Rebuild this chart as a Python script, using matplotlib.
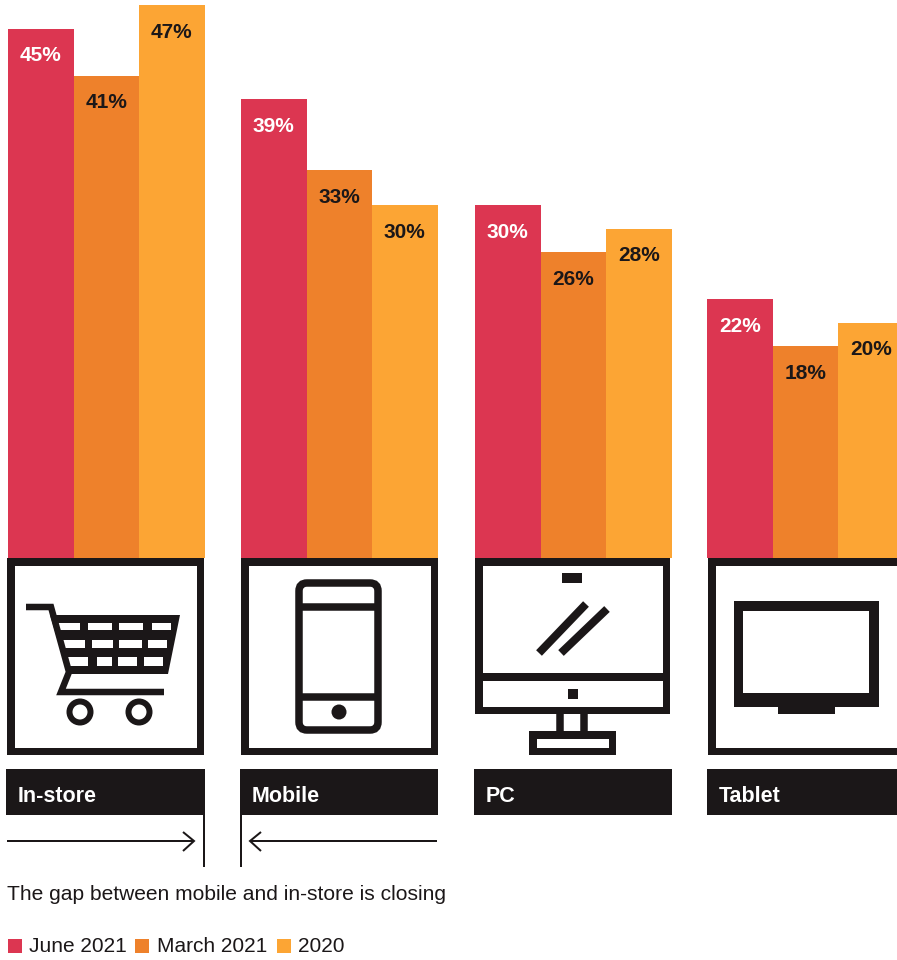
import matplotlib
matplotlib.use("Agg")
import matplotlib.pyplot as plt
from matplotlib.patches import Rectangle, Circle, FancyBboxPatch, Polygon

plt.rcParams['font.family'] = ['Liberation Sans', 'DejaVu Sans']

categories = ["In-store", "Mobile", "PC", "Tablet"]
series_names = ["June 2021", "March 2021", "2020"]
june_2021 = [45, 39, 30, 22]
march_2021 = [41, 33, 26, 18]
year_2020 = [47, 30, 28, 20]
caption = "The gap between mobile and in-store is closing"

RED = '#DC3651'
ORANGE = '#EE812B'
YELLOW = '#FCA534'
DARK = '#1B1718'
W, H = 897, 960
BASE_Y = 558
PX_PER_PCT = 11.76
BAR_W = 65.5
GROUP_X = [8, 241, 475, 707]

fig = plt.figure(figsize=(W / 100, H / 100), dpi=100)

# bars get a real percent axis, everything else is drawn in pixel coords
ax = fig.add_axes([0, (H - BASE_Y) / H, 1, BASE_Y / H])
ax.set_xlim(0, W)
ax.set_ylim(0, BASE_Y / PX_PER_PCT)
ax.axis('off')

all_series = [june_2021, march_2021, year_2020]
colors = [RED, ORANGE, YELLOW]
text_colors = ['white', DARK, DARK]
for i, vals in enumerate(all_series):
    xs = [g + BAR_W * i for g in GROUP_X]
    ax.bar(xs, vals, width=BAR_W, align='edge', color=colors[i], linewidth=0)
    for x, v in zip(xs, vals):
        ax.annotate(f"{v}%", (x + BAR_W / 2, v), xytext=(0, -19.5), textcoords='offset points',
                    ha='center', va='center', fontsize=15, fontweight='bold',
                    color=text_colors[i], annotation_clip=False)

px = fig.add_axes([0, 0, 1, 1])
px.set_xlim(0, W)
px.set_ylim(H, 0)
px.axis('off')
px.patch.set_alpha(0)


def lw(pixels):
    return pixels * 0.72


def line(xs, ys, width=7, cap='butt', join='miter'):
    px.plot(xs, ys, color=DARK, lw=lw(width), solid_capstyle=cap, solid_joinstyle=join)


def solid(x0, y0, x1, y1, c=DARK):
    px.add_patch(Rectangle((x0, y0), x1 - x0, y1 - y0, facecolor=c, edgecolor='none'))


def box(x0, y0, x1, y1, width=7.5):
    solid(x0, y0, x1, y0 + width)
    solid(x0, y1 - width, x1, y1)
    solid(x0, y0, x0 + width, y1)
    solid(x1 - width, y0, x1, y1)


# icon frames
box(7, 558, 204, 755)
box(241, 558, 438, 755)
box(708, 558, 905, 755)

# cart
line([26, 51, 69, 61, 164], [607, 607, 672, 692, 692], 6.5)
px.add_patch(Polygon([(50, 615), (180, 615), (168, 674), (68, 674)], facecolor=DARK, edgecolor='none'))
cell_rows = [
    (622.5, 630, [(58, 80), (88, 112), (119, 143), (152, 171)]),
    (640, 648, [(63, 85), (92, 113), (119, 142), (148, 167)]),
    (657, 666, [(68, 88), (97, 112), (118, 137), (144, 163)]),
]
for y0, y1, cells in cell_rows:
    for x0, x1 in cells:
        solid(x0, y0, x1, y1, 'white')
for cx in [80, 139]:
    px.add_patch(Circle((cx, 712), 10.5, fill=False, edgecolor=DARK, lw=lw(6)))

# phone
px.add_patch(FancyBboxPatch((299, 583), 79, 147, boxstyle='round,pad=0,rounding_size=8',
                            fill=False, edgecolor=DARK, lw=lw(7.5)))
line([299, 378], [606.5, 606.5], 7.5)
line([299, 378], [696.5, 696.5], 7.5)
px.add_patch(Circle((339, 712), 7.5, facecolor=DARK, edgecolor='none'))

# desktop
box(475, 558, 670, 714)
solid(478, 673, 667, 681)
solid(562, 573, 582, 583)
line([539, 586], [653, 604], 8)
line([561, 607], [653, 609], 8)
solid(568, 689, 578, 699)
line([560, 560], [713, 732], 7.5)
line([584, 584], [713, 732], 7.5)
box(529, 731, 616, 755)

# tablet
solid(734, 601, 879, 707)
solid(743, 611, 869, 693, 'white')
solid(778, 706, 835, 714)

# label bars and their text
for x0, x1, name in zip([6, 240, 474, 707], [205, 438, 672, 905], categories):
    solid(x0, 769, x1, 815)
    px.text(x0 + 12, 796, name, color='white', fontsize=15.5, fontweight='bold', va='center')

# arrows closing in on each other
line([204, 204], [815, 867], 2)
line([241, 241], [815, 867], 2)
line([7, 194], [841, 841], 2)
line([183, 194, 183], [832, 841, 851], 2)
line([437, 250], [841, 841], 2)
line([261, 250, 261], [832, 841, 851], 2)

px.text(7, 895, caption, color=DARK, fontsize=15.1, va='center')

# legend
for sx, tx, c, name in zip([8, 135, 277], [29, 157, 298], colors, series_names):
    px.add_patch(Rectangle((sx, 939), 14, 14, facecolor=c, edgecolor='none'))
    px.text(tx, 947, name, color=DARK, fontsize=15, va='center')

fig.savefig('out.png', dpi=100)
